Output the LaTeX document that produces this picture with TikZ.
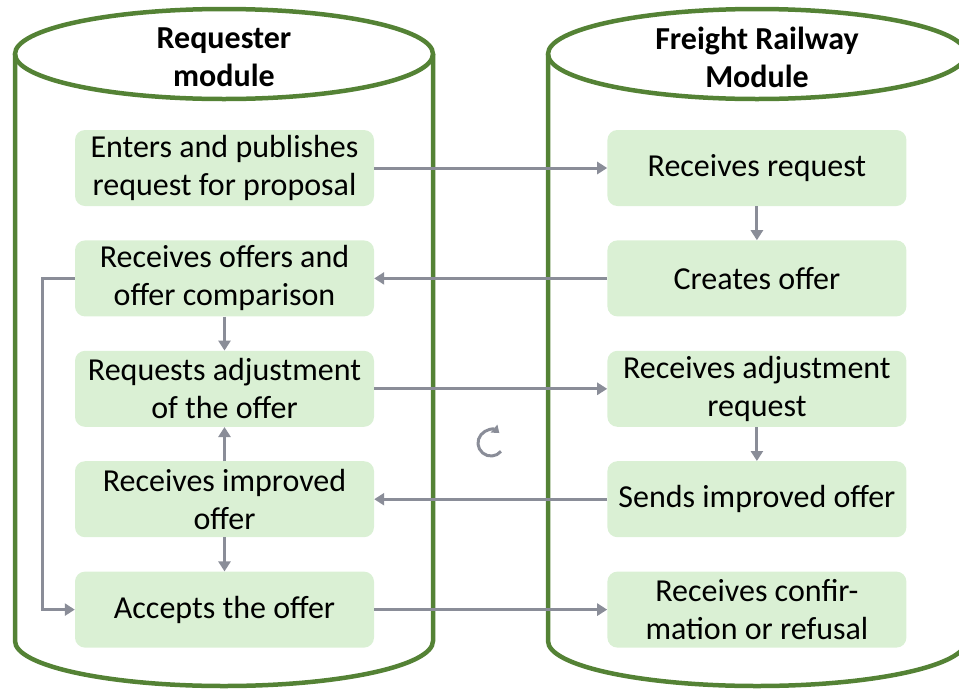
\documentclass[tikz,border=0pt]{standalone}
\usepackage{fontspec}
\setmainfont{Carlito}
\usetikzlibrary{positioning,arrows.meta}

\definecolor{cylcolor}{RGB}{84,130,53}
\definecolor{stepcolor}{RGB}{218,240,212}
\definecolor{flowcolor}{RGB}{138,141,152}

\begin{document}
\begin{tikzpicture}[x=1pt, y=-1pt, node distance={34pt and 233pt},
    cyl/.style = {draw=cylcolor, line width=4.5pt},
    stepbox/.style = {fill=stepcolor, rounded corners=10pt, minimum width=299pt, minimum height=76pt, align=center, inner sep=2pt, font=\fontsize{32}{38}\selectfont},
    title/.style = {align=center, font=\fontsize{32}{38}\selectfont\bfseries},
    flow/.style = {draw=flowcolor, line width=3pt, -{Triangle[length=10pt,width=12pt]}}]
		\clip (0,0) rectangle (959,689);
		
		% cylinders
		\draw[cyl] (15,54) -- (15,641) arc[start angle=180, end angle=360, x radius=209pt, y radius=45pt] -- (433,54);
		\draw[cyl] (224,54) ellipse[x radius=209pt, y radius=45pt];
		\draw[cyl] (548,54) -- (548,641) arc[start angle=180, end angle=360, x radius=209pt, y radius=45pt] -- (966,54);
		\draw[cyl] (757,54) ellipse[x radius=209pt, y radius=45pt];
		
		\node[title] (ReqTitle) at (224,57) {Requester\\module};
		\node[title] (RailTitle) at (757,57) {Freight Railway\\Module};
		
		% requester side
		\node[stepbox] (Publish) at (224.5,168) {Enters and publishes\\request for proposal};
		\node[stepbox] (Compare) [below=of Publish] {Receives offers and\\offer comparison};
		\node[stepbox] (Adjust) [below=of Compare] {Requests adjustment\\of the offer};
		\node[stepbox] (Improved) [below=of Adjust] {Receives improved\\offer};
		\node[stepbox] (Accept) [below=of Improved] {Accepts the offer};
		
		% railway side
		\node[stepbox] (Request) [right=of Publish] {Receives request};
		\node[stepbox] (Offer) [right=of Compare] {Creates offer};
		\node[stepbox] (AdjReq) [right=of Adjust] {Receives adjustment\\request};
		\node[stepbox] (SendOffer) [right=of Improved] {Sends improved offer};
		\node[stepbox] (Confirm) [right=of Accept] {Receives confir-\\mation or refusal};
		
		\draw[flow] (Publish) -- (Request);
		\draw[flow] (Request) -- (Offer);
		\draw[flow] (Offer) -- (Compare);
		\draw[flow] (Compare) -- (Adjust);
		\draw[flow] (Adjust) -- (AdjReq);
		\draw[flow] (AdjReq) -- (SendOffer);
		\draw[flow] (SendOffer) -- (Improved);
		\draw[flow] (Improved) -- (Adjust);
		\draw[flow] (Improved) -- (Accept);
		\draw[flow] (Compare.west) -- ++(-32,0) |- (Accept.west);
		\draw[flow] (Accept) -- (Confirm);
		
		% loop sign
		\draw[draw=flowcolor, line width=3pt, -{Triangle[length=7pt,width=10pt]}] (491,443) ++(-40:13pt) arc[start angle=-40, end angle=-310, radius=13pt];
	\end{tikzpicture}
\end{document}
